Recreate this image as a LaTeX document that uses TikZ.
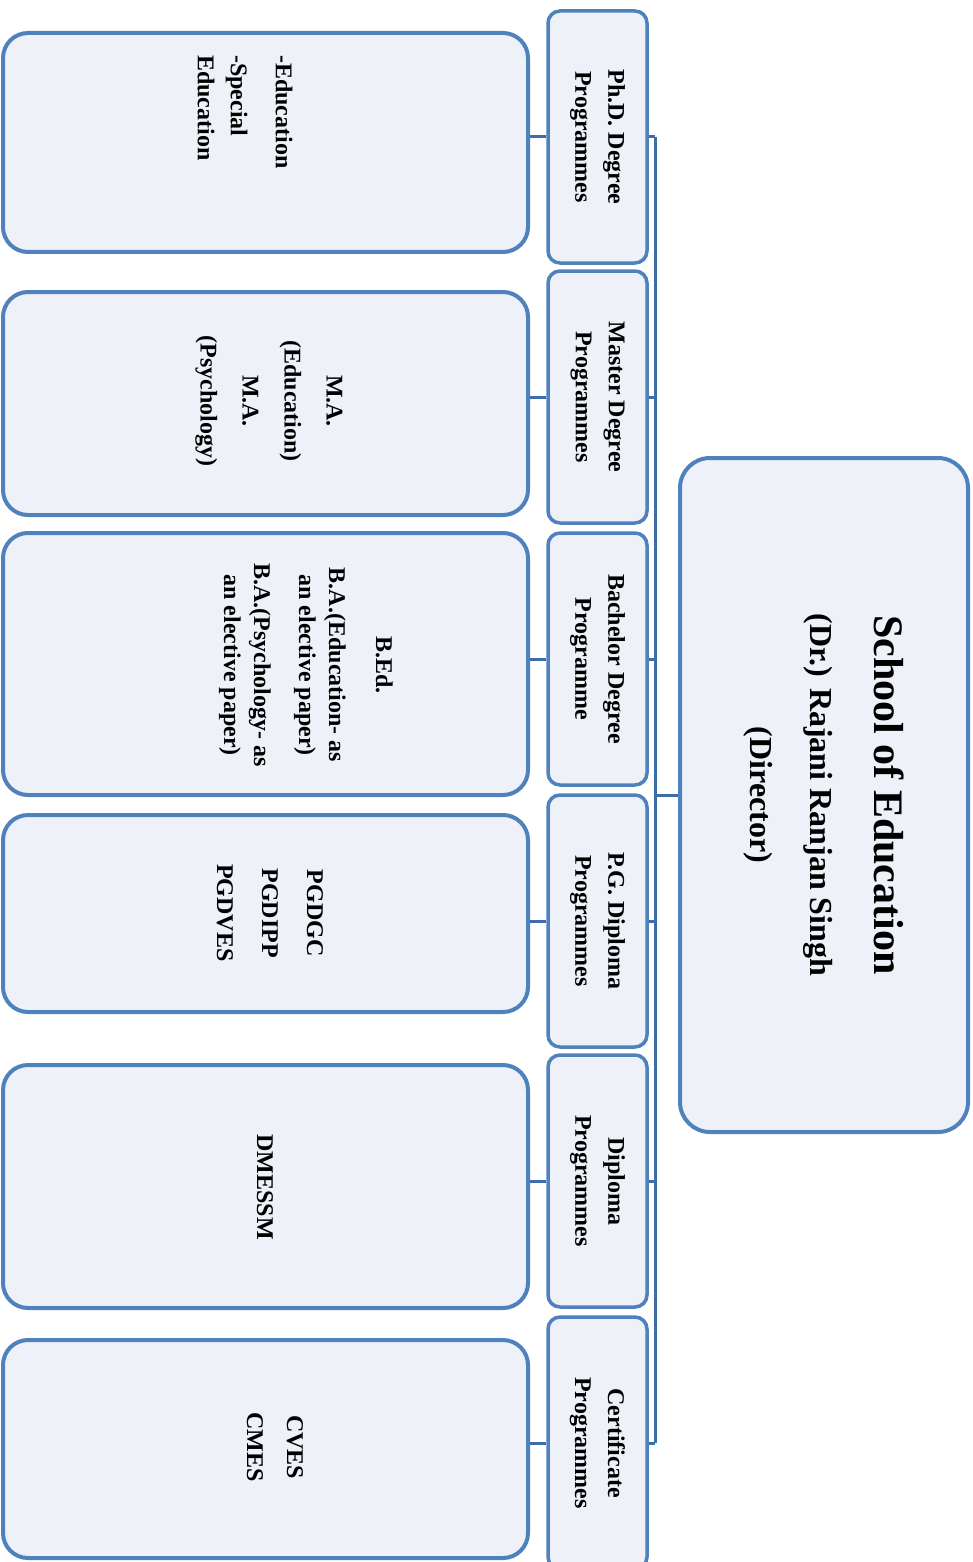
\documentclass[tikz,border=0pt]{standalone}
\usepackage{fontspec}
\setmainfont{Liberation Serif}
\definecolor{boxfill}{HTML}{EEF2F8}
\definecolor{boxline}{HTML}{4F81BD}
\definecolor{linkline}{HTML}{3D6EAA}
\begin{document}
\begin{tikzpicture}[x=1pt, y=-1pt,
    mainbox/.style={draw=boxline, fill=boxfill, line width=4pt, rounded corners=30pt, rotate=-90,
        minimum width=674pt, minimum height=288pt, align=center, font=\bfseries\fontsize{32}{60}\selectfont},
    progbox/.style={draw=boxline, fill=boxfill, line width=3.5pt, rounded corners=12pt, rotate=-90,
        minimum width=252pt, minimum height=99pt, inner sep=0pt, align=center, font=\bfseries\fontsize{24}{33}\selectfont},
    listbox/.style={draw=boxline, fill=boxfill, line width=4pt, rounded corners=25pt, minimum width=525pt},
    listtext/.style={rotate=-90, align=center, inner sep=0pt, font=\bfseries\fontsize{24}{30}\selectfont},
    link/.style={draw=linkline, line width=3pt}]
    \useasboundingbox (0,0) rectangle (973,1562);

    % School
    \node[mainbox] (school) at (824,795) {{\fontsize{42}{50}\selectfont School of Education}\\[4pt](Dr.) Rajani Ranjan Singh\\(Director)};

    % Programme types
    \foreach \name/\yc/\txt in {phd/137/{Ph.D. Degree\\Programmes}, master/397/{Master Degree\\Programmes},
        bachelor/659/{Bachelor Degree\\Programme}, pgdip/921/{P.G. Diploma\\Programmes},
        diploma/1181/{Diploma\\Programmes}, cert/1443/{Certificate\\Programmes}} {
        \node[progbox] (\name) at (597.5,\yc) {\txt};
    }

    % Courses
    \node[listbox, minimum height=219pt] (phdlist) at (265.5,142.5) {};
    \node[listbox, minimum height=223pt] (masterlist) at (265.5,403.5) {};
    \node[listbox, minimum height=262pt] (bachelorlist) at (265.5,664) {};
    \node[listbox, minimum height=197pt] (pgdiplist) at (265.5,913.5) {};
    \node[listbox, minimum height=243pt] (diplomalist) at (265.5,1186.5) {};
    \node[listbox, minimum height=218pt] (certlist) at (265.5,1449) {};

    \node[listtext, align=left, anchor=west, font=\bfseries\fontsize{24}{33}\selectfont] (phdtext) at (245,55) {-Education\\[12pt]-Special\\Education};
    \node[listtext, font=\bfseries\fontsize{24}{42}\selectfont] (mastertext) at (269,401) {M.A.\\(Education)\\M.A.\\(Psychology)};
    \node[listtext] (bachelortext) at (306,665) {B.Ed.\\[17pt]B.A.(Education- as\\an elective paper)\\[15pt]B.A.(Psychology- as\\an elective paper)};
    \node[listtext, font=\bfseries\fontsize{24}{45}\selectfont] (pgdiptext) at (270,913) {PGDGC\\PGDIPP\\PGDVES};
    \node[listtext] (diplomatext) at (265,1187) {DMESSM};
    \node[listtext, font=\bfseries\fontsize{24}{40}\selectfont] (certtext) at (275,1447) {CVES\\CMES};

    % Connectors
    \coordinate (spine) at (655,0);
    \draw[link] (phd.north -| spine) -- (cert.north -| spine);
    \draw[link] (school.south) -- (school.south -| spine);
    \foreach \name in {phd,master,bachelor,pgdip,diploma,cert} {
        \draw[link] (\name.north) -- (\name.north -| spine);
        \draw[link] (\name.south) -- (\name.south -| \name list.east);
    }
\end{tikzpicture}
\end{document}
